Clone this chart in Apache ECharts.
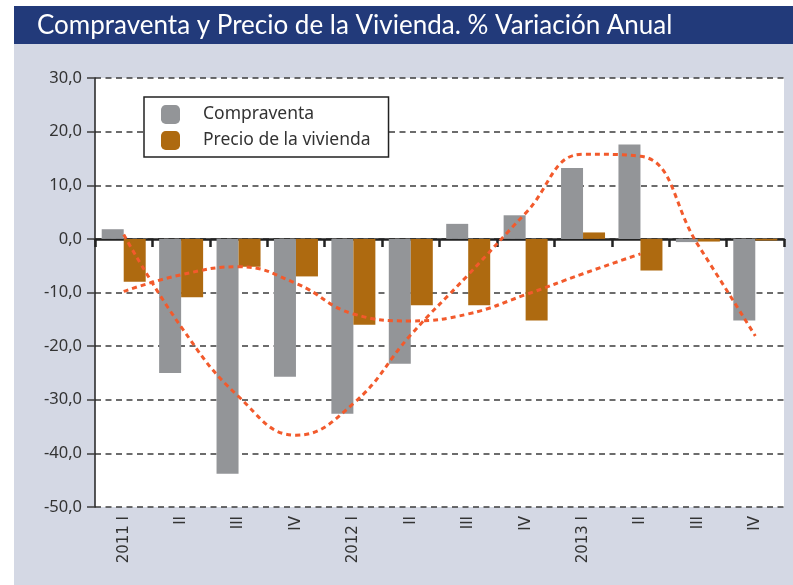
<!DOCTYPE html>
<html>
<head>
<meta charset="utf-8">
<script src="https://cdn.jsdelivr.net/npm/echarts@6/dist/echarts.min.js"></script>
<style>
    html, body {margin: 0; padding: 0; background: #fff;}
    #chart {width: 793px; height: 585px;}
</style>
</head>
<body>
<div id="chart"></div>
<script>
// datos trimestrales
var categories = ['2011 I', 'II', 'III', 'IV', '2012 I', 'II', 'III', 'IV', '2013 I', 'II', 'III', 'IV'];
var compraventa = [1.8, -25.0, -43.8, -25.7, -32.6, -23.3, 2.8, 4.4, 13.2, 17.6, -0.6, -15.2];
var precio = [-8.0, -10.9, -5.2, -7.0, -16.0, -12.4, -12.4, -15.2, 1.2, -5.9, -0.5, -0.3];
// lineas de tendencia
var tendCompraventa = [0.8, -16.4, -29.4, -36.6, -30.7, -17.9, -6.7, 4.8, 15.8, 15.4, -1.1, -18.1];
var tendPrecio = [-9.8, -6.7, -5.2, -8.3, -14.0, -15.3, -14.0, -10.4, -6.5, -2.8];

var chart = document.getElementById('chart');
var myChart = echarts.init(chart);

var fontFam = '"Noto Sans", sans-serif';
var trendColor = '#f25a2c';

function loadingOption() {
    var option = {
        animation: false,
        textStyle: {fontFamily: fontFam},
        title: {
            text: 'Compraventa y Precio de la Vivienda. % Variación Anual',
            left: 32,
            top: 8,
            textStyle: {color: '#fff', fontSize: 26, fontWeight: 'normal', fontFamily: 'Lato, sans-serif'}
        },
        graphic: [{
            type: 'rect', z: -10,
            shape: {x: 14, y: 44, width: 779, height: 541},
            style: {fill: '#d4d8e4'}
        }, {
            type: 'rect', z: -10,
            shape: {x: 14, y: 6, width: 779, height: 38},
            style: {fill: '#223a7a'}
        }],
        legend: {
            data: ['Compraventa', 'Precio de la vivienda'],
            orient: 'vertical',
            left: 144,
            top: 97,
            padding: [8, 18, 7, 17],
            itemWidth: 19,
            itemHeight: 19,
            itemGap: 7,
            backgroundColor: '#fff',
            borderColor: '#222',
            borderWidth: 1.5,
            borderRadius: 0,
            textStyle: {color: '#333', fontSize: 17.5, padding: [0, 0, 0, 18]}
        },
        grid: {
            show: true,
            left: 95, right: 9, top: 78, bottom: 78,
            backgroundColor: '#fff',
            borderWidth: 0
        },
        xAxis: [{
            type: 'category',
            data: categories,
            axisLine: {onZero: true, lineStyle: {color: '#222', width: 2.5}},
            axisTick: {show: true, length: 8, lineStyle: {color: '#222', width: 2.5}},
            axisLabel: {show: false},
            splitLine: {show: false}
        }, {
            type: 'category',
            data: categories,
            position: 'bottom',
            axisLine: {show: false, onZero: false},
            axisTick: {show: false},
            axisLabel: {rotate: 90, margin: 9, color: '#333', fontSize: 15, fontFamily: '"DejaVu Sans", sans-serif'},
            splitLine: {show: false}
        }],
        yAxis: {
            type: 'value',
            min: -50,
            max: 30,
            interval: 10,
            axisLine: {show: true, lineStyle: {color: '#222', width: 1.5}},
            axisTick: {show: true, length: 8, lineStyle: {color: '#3d3d3d', width: 1.5}},
            axisLabel: {
                margin: 13,
                color: '#333',
                fontSize: 16.5,
                formatter: function (v) {
                    return v.toFixed(1).replace('.', ',');
                }
            },
            splitLine: {lineStyle: {color: '#3d3d3d', width: 1.5, type: [6, 4.5]}}
        },
        series: [{
            name: 'Compraventa',
            type: 'bar',
            data: compraventa,
            barWidth: 22,
            barGap: '0%',
            itemStyle: {color: '#939598'}
        }, {
            name: 'Precio de la vivienda',
            type: 'bar',
            data: precio,
            barWidth: 22,
            itemStyle: {color: '#ae6a10'}
        }, {
            name: 'tend1',
            type: 'line',
            data: tendCompraventa,
            smooth: 0.45,
            symbol: 'none',
            z: 5,
            lineStyle: {color: trendColor, width: 3, type: [5, 4]}
        }, {
            name: 'tend2',
            type: 'line',
            data: tendPrecio,
            smooth: 0.45,
            symbol: 'none',
            z: 5,
            lineStyle: {color: trendColor, width: 3, type: [5, 4]}
        }]
    };
    return option;
}

myChart.setOption(loadingOption());
</script>
</body>
</html>
